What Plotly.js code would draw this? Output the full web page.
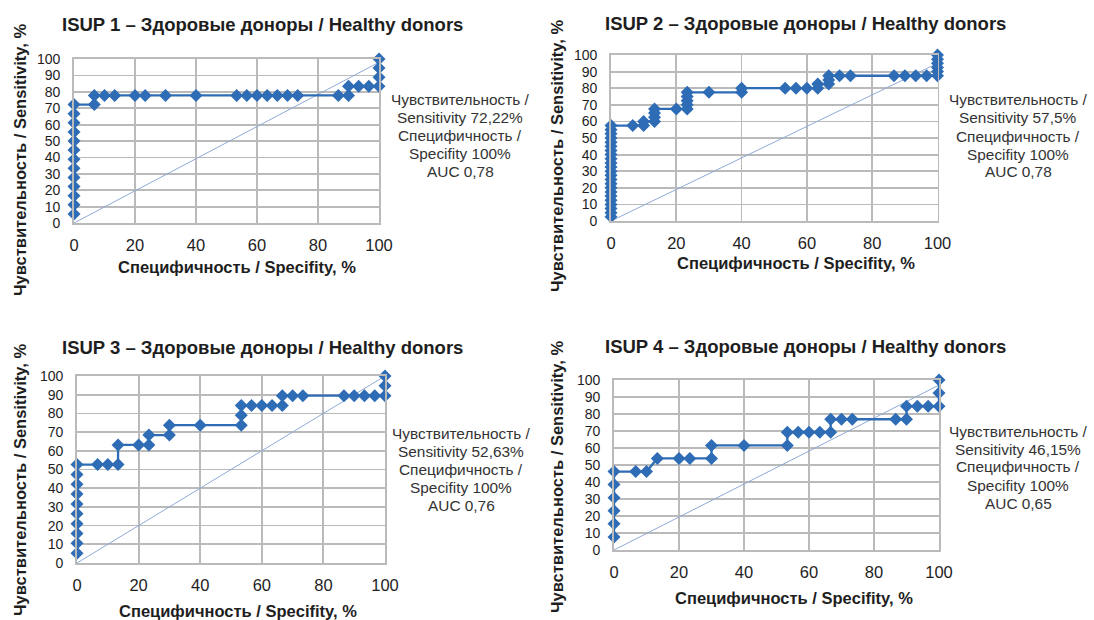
<!DOCTYPE html>
<html>
<head>
<meta charset="utf-8">
<script src="https://cdn.plot.ly/plotly-3.0.1.min.js"></script>
<style>html,body{margin:0;padding:0;background:#fff;}#chart{width:1094px;height:620px;}</style>
</head>
<body>
<div id="chart"></div>
<script>
// ---------- DATA ----------
const panelTitles = [
  "ISUP 1 – Здоровые доноры / Healthy donors",
  "ISUP 2 – Здоровые доноры / Healthy donors",
  "ISUP 3 – Здоровые доноры / Healthy donors",
  "ISUP 4 – Здоровые доноры / Healthy donors"
];
const xAxisTitle = "Специфичность / Specifity, %";
const yAxisTitle = "Чувствительность / Sensitivity, %";
const xTicks = [0, 20, 40, 60, 80, 100];
const yTicks = [0, 10, 20, 30, 40, 50, 60, 70, 80, 90, 100];

const sensitivityLabels = ["72,22%", "57,5%", "52,63%", "46,15%"];
const specificityLabels = ["100%", "100%", "100%", "100%"];
const aucLabels = ["0,78", "0,78", "0,76", "0,65"];

// ISUP 1
const isup1X = [0,0,0,0,0,0,0,0,0,0,0,0,0, 6.67,6.67,10,13.33,20,23.33,30,40,53.33,56.67,60,63.33,66.67,70,73.33,86.67,90,90,93.33,96.67,100,100,100,100];
const isup1Y = [5.56,11.11,16.67,22.22,27.78,33.33,38.89,44.44,50,55.56,61.11,66.67,72.22, 72.22,77.78,77.78,77.78,77.78,77.78,77.78,77.78,77.78,77.78,77.78,77.78,77.78,77.78,77.78,77.78,77.78,83.33,83.33,83.33,83.33,88.89,94.44,100];
// ISUP 2
const isup2X = [0,0,0,0,0,0,0,0,0,0,0,0,0,0,0,0,0,0,0,0,0,0,0, 6.67,10,10,13.33,13.33,13.33,13.33,20,23.33,23.33,23.33,23.33,23.33,30,40,40,53.33,56.67,60,63.33,63.33,66.67,66.67,66.67,70,73.33,86.67,90,93.33,96.67,100,100,100,100,100,100];
const isup2Y = [2.5,5,7.5,10,12.5,15,17.5,20,22.5,25,27.5,30,32.5,35,37.5,40,42.5,45,47.5,50,52.5,55,57.5, 57.5,57.5,60,60,62.5,65,67.5,67.5,67.5,70,72.5,75,77.5,77.5,77.5,80,80,80,80,80,82.5,82.5,85,87.5,87.5,87.5,87.5,87.5,87.5,87.5,87.5,90,92.5,95,97.5,100];
// ISUP 3
const isup3X = [0,0,0,0,0,0,0,0,0,0, 6.67,10,13.33,13.33,20,23.33,23.33,30,30,40,53.33,53.33,53.33,56.67,60,63.33,66.67,66.67,70,73.33,86.67,90,93.33,96.67,100,100,100];
const isup3Y = [5.26,10.53,15.79,21.05,26.32,31.58,36.84,42.11,47.37,52.63, 52.63,52.63,52.63,63.16,63.16,63.16,68.42,68.42,73.68,73.68,73.68,78.95,84.21,84.21,84.21,84.21,84.21,89.47,89.47,89.47,89.47,89.47,89.47,89.47,89.47,94.74,100];
// ISUP 4
const isup4X = [0,0,0,0,0,0, 6.67,10,13.33,20,23.33,30,30,40,53.33,53.33,56.67,60,63.33,66.67,66.67,70,73.33,86.67,90,90,93.33,96.67,100,100,100];
const isup4Y = [7.69,15.38,23.08,30.77,38.46,46.15, 46.15,46.15,53.85,53.85,53.85,53.85,61.54,61.54,61.54,69.23,69.23,69.23,69.23,69.23,76.92,76.92,76.92,76.92,76.92,84.62,84.62,84.62,84.62,92.31,100];

// reference (chance) diagonals
const diagX = [0, 100];
const diag1Y = [0, 98];
const diag2Y = [0, 95];
const diag3Y = [0, 100];
const diag4Y = [0, 97];

// ---------- LAYOUT HELPERS ----------
const W = 1094, H = 620;
const px = v => v / W;
const py = v => 1 - v / H;

// plot boxes in pixels: [x0, x100, y100, y0]
const boxes = [
  [74, 379, 59, 223],
  [611, 937.5, 55, 221],
  [77, 385, 376, 563],
  [614, 939, 380, 550]
];
const seriesX = [isup1X, isup2X, isup3X, isup4X];
const seriesY = [isup1Y, isup2Y, isup3Y, isup4Y];
const diagY = [diag1Y, diag2Y, diag3Y, diag4Y];

const blue = '#2e6cb5';
const gridCol = '#bababa';
const fontReg = 'Liberation Sans, Arial, sans-serif';

const titlePos = [[60, 25], [603, 24], [60, 347], [603, 346]];
const xTitlePos = [[237, 267], [796, 263], [238, 611], [794, 598]];
const yTitlePos = [[20, 160], [557, 156], [20, 480], [557, 477]];
const notePos = [[460, 99], [1018, 100], [461, 433], [1018, 431]];
const noteStep = 18;

const data = [];
const layout = {
  width: W, height: H,
  margin: {l: 0, r: 0, t: 0, b: 0},
  paper_bgcolor: '#fff', plot_bgcolor: '#fff',
  showlegend: false,
  annotations: []
};

for (let i = 0; i < 4; i++) {
  const n = i + 1;
  const xa = n === 1 ? 'x' : 'x' + n;
  const ya = n === 1 ? 'y' : 'y' + n;
  const b = boxes[i];
  data.push({
    x: diagX, y: diagY[i], xaxis: xa, yaxis: ya,
    mode: 'lines', line: {color: '#8faad6', width: 1}, hoverinfo: 'skip', cliponaxis: false
  });
  data.push({
    x: seriesX[i], y: seriesY[i], xaxis: xa, yaxis: ya,
    mode: 'lines+markers',
    line: {color: blue, width: 2.3},
    marker: {symbol: 'diamond', size: 10, color: blue},
    cliponaxis: false
  });
  const common = {
    range: [0, 100], autorange: false, fixedrange: true,
    showgrid: true, gridcolor: gridCol, gridwidth: 1.8,
    showline: true, linecolor: gridCol, linewidth: 1.8, mirror: true,
    zeroline: false, ticks: ''
  };
  layout['xaxis' + (n === 1 ? '' : n)] = Object.assign({}, common, {
    domain: [px(b[0]), px(b[1])], anchor: ya,
    tickvals: xTicks, ticktext: xTicks.map(String), ticklabelstandoff: 6,
    tickfont: {family: fontReg, size: 16.5, color: '#1e1e1e'}
  });
  layout['yaxis' + (n === 1 ? '' : n)] = Object.assign({}, common, {
    domain: [py(b[3]), py(b[2])], anchor: xa,
    tickvals: yTicks, ticktext: yTicks.map(String), ticklabelstandoff: 9,
    tickfont: {family: fontReg, size: 14, color: '#1e1e1e'}
  });

  layout.annotations.push({
    xref: 'paper', yref: 'paper', x: px(titlePos[i][0]), y: py(titlePos[i][1]),
    xanchor: 'left', yanchor: 'middle', showarrow: false,
    text: '<b>' + panelTitles[i] + '</b>',
    font: {family: fontReg, size: 18.5, color: '#1e1e1e'}
  });
  layout.annotations.push({
    xref: 'paper', yref: 'paper', x: px(xTitlePos[i][0]), y: py(xTitlePos[i][1]),
    xanchor: 'center', yanchor: 'middle', showarrow: false,
    text: '<b>' + xAxisTitle + '</b>',
    font: {family: fontReg, size: 16.5, color: '#1e1e1e'}
  });
  layout.annotations.push({
    xref: 'paper', yref: 'paper', x: px(yTitlePos[i][0]), y: py(yTitlePos[i][1]),
    xanchor: 'center', yanchor: 'middle', showarrow: false, textangle: -90,
    text: '<b>' + yAxisTitle + '</b>',
    font: {family: fontReg, size: 16.5, color: '#1e1e1e'}
  });
  const lines = [
    'Чувствительность /',
    'Sensitivity ' + sensitivityLabels[i],
    'Специфичность /',
    'Specifity ' + specificityLabels[i],
    'AUC ' + aucLabels[i]
  ];
  lines.forEach((t, k) => {
    layout.annotations.push({
      xref: 'paper', yref: 'paper', x: px(notePos[i][0]), y: py(notePos[i][1] + k * noteStep),
      xanchor: 'center', yanchor: 'middle', showarrow: false, borderpad: 0,
      text: t, font: {family: fontReg, size: 15.4, color: '#333'}
    });
  });
}

Plotly.newPlot('chart', data, layout, {displayModeBar: false, staticPlot: true});
</script>
</body>
</html>
